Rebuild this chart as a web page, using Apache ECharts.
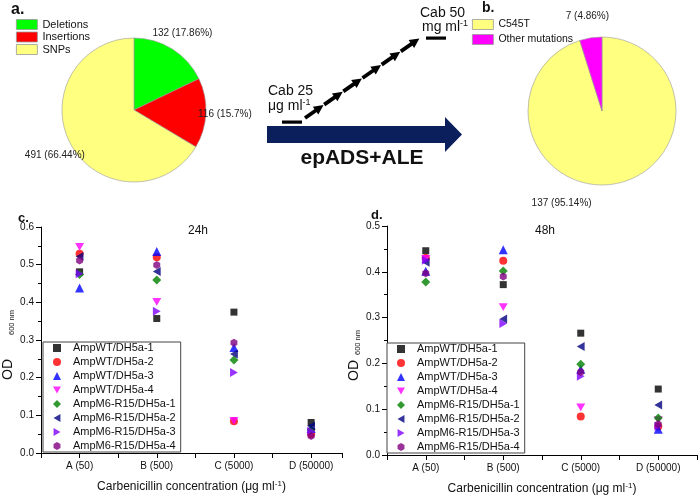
<!DOCTYPE html>
<html>
<head>
<meta charset="utf-8">
<script src="https://cdn.jsdelivr.net/npm/echarts@6/dist/echarts.min.js"></script>
<style>
html, body { margin: 0; padding: 0; background: #fff; }
#main { width: 700px; height: 496px; }
</style>
</head>
<body>
<div id="main"></div>
<script>
// a. mutation types found after epADS
var MUT_TYPES = ['Deletions', 'Insertions', 'SNPs'];
var MUT_COUNTS = [132, 116, 491];
// b. mutations after ALE
var ALE_TYPES = ['C545T', 'Other mutations'];
var ALE_COUNTS = [137, 7];

// c./d. OD600 per strain at each carbenicillin concentration
var CATEGORIES = ['A (50)', 'B (500)', 'C (5000)', 'D (50000)'];
var STRAINS = [
	'AmpWT/DH5a-1', 'AmpWT/DH5a-2', 'AmpWT/DH5a-3', 'AmpWT/DH5a-4',
	'AmpM6-R15/DH5a-1', 'AmpM6-R15/DH5a-2', 'AmpM6-R15/DH5a-3', 'AmpM6-R15/DH5a-4'
];
var OD_24H = [
	[0.481, 0.357, 0.374, 0.081],
	[0.529, 0.520, 0.084, 0.050],
	[0.438, 0.535, 0.280, 0.065],
	[0.547, 0.401, 0.085, 0.055],
	[0.474, 0.459, 0.247, 0.062],
	[0.522, 0.482, 0.263, 0.072],
	[0.476, 0.376, 0.214, 0.058],
	[0.511, 0.499, 0.293, 0.045]
];
var OD_48H = [
	[0.446, 0.372, 0.266, 0.144],
	[0.430, 0.424, 0.084, 0.062],
	[0.401, 0.448, 0.187, 0.056],
	[0.428, 0.323, 0.104, 0.076],
	[0.378, 0.402, 0.198, 0.081],
	[0.421, 0.297, 0.237, 0.109],
	[0.425, 0.287, 0.172, 0.063],
	[0.397, 0.390, 0.181, 0.067]
];

var FONT = 'Liberation Sans, Arial, sans-serif';
// Origin style markers, same order as STRAINS
var TRI_DOWN = 'path://M-5,-4.33 L5,-4.33 L0,4.33 Z';
var TRI_LEFT = 'path://M-4.33,0 L4.33,-5 L4.33,5 Z';
var TRI_RIGHT = 'path://M4.33,0 L-4.33,-5 L-4.33,5 Z';
var HEX = 'path://M0,-10 L8.66,-5 L8.66,5 L0,10 L-8.66,5 L-8.66,-5 Z';
var MARKERS = [
	{symbol: 'rect', size: 7, color: '#000000'},
	{symbol: 'circle', size: 8, color: '#ff0000'},
	{symbol: 'triangle', size: 9, color: '#0000ff'},
	{symbol: TRI_DOWN, size: 9, color: '#ff00ff'},
	{symbol: 'diamond', size: 9, color: '#008000'},
	{symbol: TRI_LEFT, size: 9, color: '#000080'},
	{symbol: TRI_RIGHT, size: 9, color: '#8000ff'},
	{symbol: HEX, size: 8, color: '#800080'}
];

function scatterSeries(values, idx) {
	return STRAINS.map(function (name, i) {
		var m = MARKERS[i];
		return {
			name: name,
			type: 'scatter',
			xAxisIndex: idx,
			yAxisIndex: idx,
			symbol: m.symbol,
			symbolSize: m.size,
			symbolKeepAspect: true,
			itemStyle: {color: m.color},
			data: values[i].map(function (v, j) { return [j + 1, v]; })
		};
	});
}

function xAxisOf(idx, max) {
	return {
		type: 'value',
		gridIndex: idx,
		min: 0.5,
		max: max,
		interval: 0.5,
		axisLine: {show: true, onZero: false, lineStyle: {color: '#000', width: 1}},
		axisTick: {show: true, length: 5, lineStyle: {color: '#000'}},
		splitLine: {show: false},
		axisLabel: {
			fontSize: 10, color: '#111', margin: 8,
			formatter: function (v) {
				return Number.isInteger(v) ? (CATEGORIES[v - 1] || '') : '';
			}
		},
		name: '{t|Carbenicillin concentration (\u03bcg ml}{s|-1}{t|)}',
		nameLocation: 'middle',
		nameGap: 27,
		nameTextStyle: {
			rich: {
				t: {fontSize: 12, color: '#111', lineHeight: 14},
				s: {fontSize: 8, color: '#111', verticalAlign: 'top', lineHeight: 14}
			}
		}
	};
}

// gap: space between "OD" and the subscript, shift: move label down (px)
function yAxisOf(idx, max, gap, shift) {
	return {
		type: 'value',
		gridIndex: idx,
		min: 0,
		max: max,
		interval: 0.1,
		axisLine: {show: true, lineStyle: {color: '#000', width: 1}},
		axisTick: {show: true, length: 5, lineStyle: {color: '#000'}},
		minorTick: {show: true, splitNumber: 2, length: 3, lineStyle: {color: '#000'}},
		splitLine: {show: false},
		axisLabel: {
			fontSize: 10, color: '#111', margin: 7,
			formatter: function (v) { return v.toFixed(1); }
		},
		name: '{od|OD}{sub|600 nm}',
		nameLocation: 'middle',
		nameRotate: 90,
		nameGap: 25,
		nameTextStyle: {
			padding: [0, shift * 2, 0, 0],
			rich: {
				od: {fontSize: 14, color: '#111', lineHeight: 16},
				sub: {fontSize: 7.5, color: '#111', verticalAlign: 'bottom', lineHeight: 16, padding: [0, 0, 0, gap]}
			}
		}
	};
}

function strainLegend(left, top) {
	return {
		data: STRAINS,
		orient: 'vertical',
		left: left,
		top: top,
		itemWidth: 8,
		itemHeight: 8,
		itemGap: 2,
		padding: [0, 5, 0, 10],
		borderColor: '#444',
		borderWidth: 1,
		backgroundColor: '#fff',
		selectedMode: false,
		textStyle: {fontSize: 11, lineHeight: 12, color: '#111', padding: [0, 0, 0, 7]}
	};
}

// dashed arrow chain between Cab 25 and Cab 50
function arrowChain(x0, y0, x1, y1, n) {
	var dx = x1 - x0, dy = y1 - y0;
	var len = Math.sqrt(dx * dx + dy * dy);
	var ux = dx / len, uy = dy / len, px = -uy, py = ux;
	var step = len / n, out = [];
	for (var k = 0; k < n; k++) {
		var sx = x0 + ux * step * k, sy = y0 + uy * step * k;
		out.push({
			type: 'line',
			shape: {x1: sx, y1: sy, x2: sx + ux * step * 0.58, y2: sy + uy * step * 0.58},
			style: {stroke: '#000', lineWidth: 3.8}
		});
		var bx = sx + ux * step * 0.55, by = sy + uy * step * 0.55;
		var tx = sx + ux * step * 0.97, ty = sy + uy * step * 0.97;
		out.push({
			type: 'polygon',
			shape: {points: [[tx, ty], [bx + px * 4.8, by + py * 4.8], [bx - px * 4.8, by - py * 4.8]]},
			style: {fill: '#000'}
		});
	}
	return out;
}

function txt(x, y, text, font, align, extra) {
	var s = {text: text, font: font, fill: '#111', align: align || 'left', verticalAlign: 'middle'};
	if (extra) { for (var k in extra) { s[k] = extra[k]; } }
	return {type: 'text', x: x, y: y, style: s};
}

var supRich = {
	n: {fontSize: 14, lineHeight: 16, fill: '#111', fontFamily: FONT},
	s: {fontSize: 9, lineHeight: 16, verticalAlign: 'top', fill: '#111', fontFamily: FONT}
};

var graphics = [
	txt(11, 10, 'a.', 'bold 16px ' + FONT),
	txt(482, 8, 'b.', 'bold 14px ' + FONT),
	txt(18, 218, 'c.', 'bold 13px ' + FONT),
	txt(371, 215, 'd.', 'bold 13px ' + FONT),
	txt(198, 231, '24h', '12px ' + FONT, 'center'),
	txt(545, 231, '48h', '12px ' + FONT, 'center'),
	txt(268, 91, 'Cab 25', '14px ' + FONT),
	txt(268, 106, '{n|\u03bcg ml}{s|-1}', '14px ' + FONT, 'left', {rich: supRich}),
	txt(420, 13, 'Cab 50', '14px ' + FONT),
	txt(422, 27, '{n|mg ml}{s|-1}', '14px ' + FONT, 'left', {rich: supRich}),
	{type: 'rect', shape: {x: 282, y: 120.5, width: 20, height: 3.2}, style: {fill: '#000'}},
	{type: 'rect', shape: {x: 426, y: 36.5, width: 20, height: 3.2}, style: {fill: '#000'}},
	{
		type: 'polygon',
		shape: {points: [[267, 126], [445, 126], [445, 117], [462, 134.5], [445, 152], [445, 143], [267, 143]]},
		style: {fill: '#0b1f5c'}
	},
	txt(362, 158, 'epADS+ALE', 'bold 21px ' + FONT, 'center')
].concat(arrowChain(305, 118, 420, 38, 6));

var myChart = echarts.init(document.getElementById('main'));

var option = {
	animation: false,
	textStyle: {fontFamily: FONT},
	legend: [
		{
			data: MUT_TYPES, orient: 'vertical', left: 16, top: 19, padding: 0,
			icon: 'rect', itemWidth: 21, itemHeight: 10, itemGap: 1.5, selectedMode: false,
			itemStyle: {borderColor: '#999', borderWidth: 0.8},
			textStyle: {fontSize: 11, lineHeight: 10, color: '#111'}
		},
		{
			data: ALE_TYPES, orient: 'vertical', left: 472, top: 19, padding: 0,
			icon: 'rect', itemWidth: 21, itemHeight: 10, itemGap: 4, selectedMode: false,
			itemStyle: {borderColor: '#999', borderWidth: 0.8},
			textStyle: {fontSize: 10.5, lineHeight: 10, color: '#111'}
		},
		strainLegend(43, 342),
		strainLegend(387, 343)
	],
	grid: [
		{left: 41, top: 227, width: 301, height: 226},
		{left: 387, top: 226, width: 311, height: 230.5}
	],
	xAxis: [xAxisOf(0, 4.4), xAxisOf(1, 4.5)],
	yAxis: [yAxisOf(0, 0.6, 24, 5), yAxisOf(1, 0.5, 5, 15)],
	graphic: graphics,
	series: [
		{
			type: 'pie',
			center: [134, 110],
			radius: 72,
			startAngle: 90,
			label: {show: false},
			labelLine: {show: false},
			itemStyle: {borderColor: '#999', borderWidth: 0.6},
			color: ['#00ff00', '#ff0000', '#ffff80'],
			data: MUT_TYPES.map(function (n, i) { return {name: n, value: MUT_COUNTS[i]}; })
		},
		{
			// invisible ring only used to place the value labels
			type: 'pie',
			center: [134, 110],
			radius: [0, 176],
			startAngle: 90,
			silent: true,
			legendHoverLink: false,
			itemStyle: {color: 'rgba(0,0,0,0)'},
			label: {show: true, position: 'inside', formatter: '{c} ({d}%)', fontSize: 10, color: '#222'},
			labelLine: {show: false},
			data: MUT_TYPES.map(function (n, i) { return {name: n, value: MUT_COUNTS[i]}; })
		},
		{
			type: 'pie',
			center: [602, 111],
			radius: 74,
			startAngle: 90,
			label: {show: false},
			labelLine: {show: false},
			itemStyle: {borderColor: '#999', borderWidth: 0.6},
			color: ['#ffff80', '#ff00ff'],
			data: ALE_TYPES.map(function (n, i) { return {name: n, value: ALE_COUNTS[i]}; })
		},
		{
			type: 'pie',
			center: [602, 111],
			radius: [0, 186],
			startAngle: 90,
			silent: true,
			legendHoverLink: false,
			itemStyle: {color: 'rgba(0,0,0,0)'},
			label: {show: true, position: 'inside', formatter: '{c} ({d}%)', fontSize: 10, color: '#222'},
			labelLine: {show: false},
			data: ALE_TYPES.map(function (n, i) {
				var d = {name: n, value: ALE_COUNTS[i]};
				if (i === 0) { d.label = {offset: [-55, -3]}; }
				return d;
			})
		}
	].concat(scatterSeries(OD_24H, 0), scatterSeries(OD_48H, 1))
};

myChart.clear();
myChart.setOption(option);
</script>
</body>
</html>
